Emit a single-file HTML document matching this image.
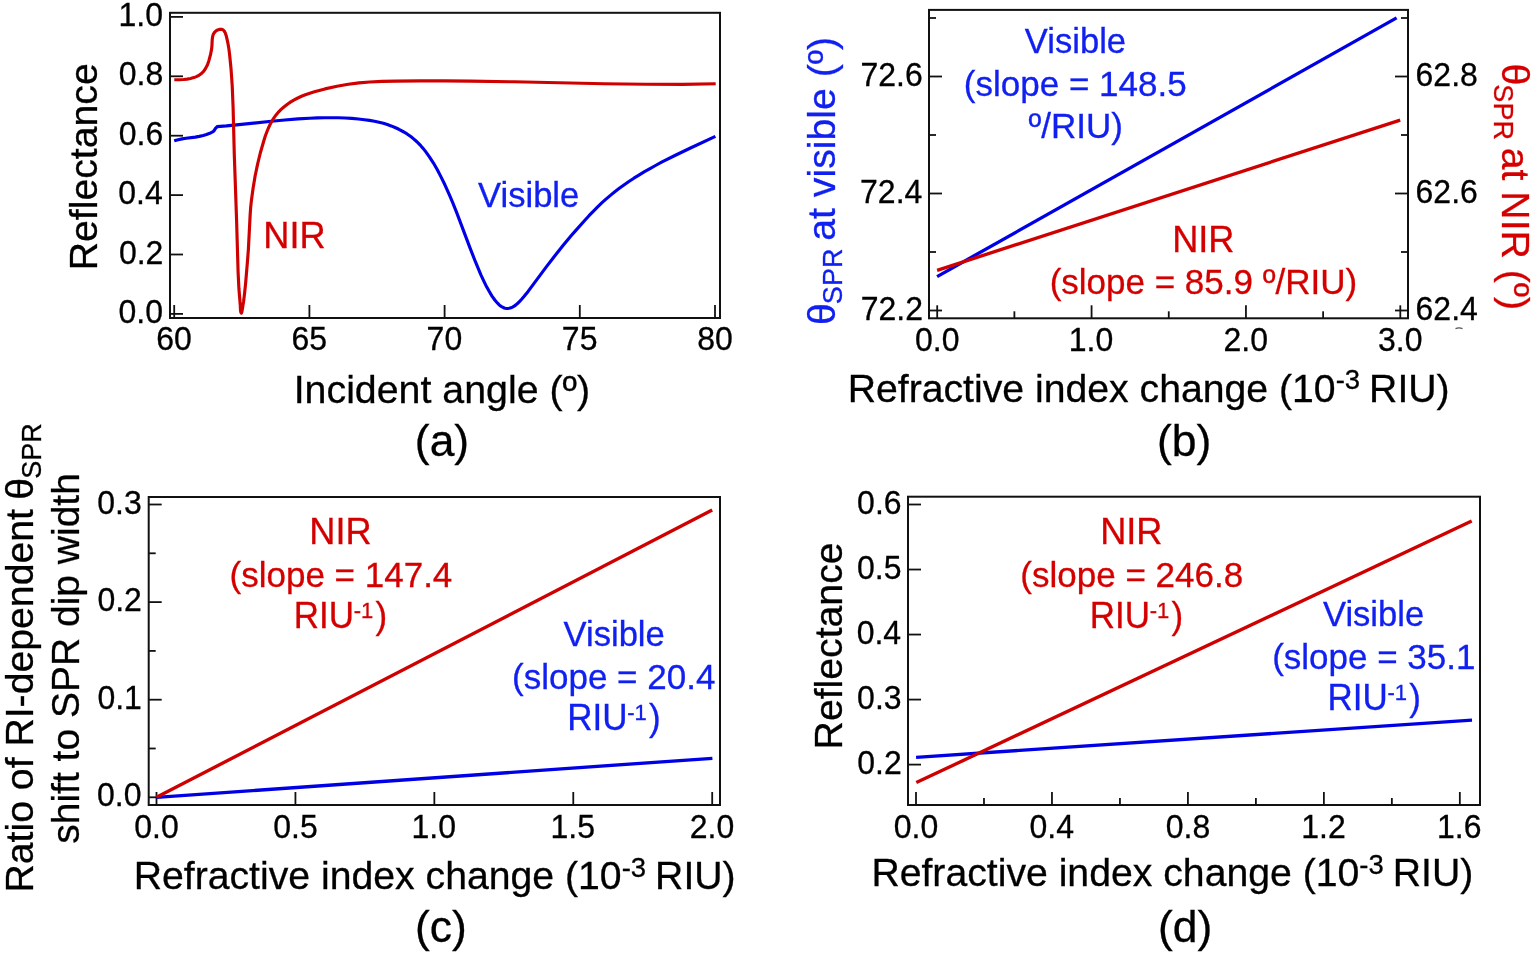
<!DOCTYPE html>
<html><head><meta charset="utf-8"><title>SPR sensing figure</title>
<style>html,body{margin:0;padding:0;background:#fff;overflow:hidden;}svg{display:block;}</style>
</head><body>
<svg width="1534" height="955" viewBox="0 0 1534 955" style='font-family: "Liberation Sans", Arial, Helvetica, sans-serif'>
<rect width="1534" height="955" fill="#fff"/>
<rect x="170" y="12.8" width="550" height="305.2" fill="none" stroke="#111" stroke-width="2"/>
<line x1="170" y1="313.9" x2="183" y2="313.9" stroke="#111" stroke-width="1.8" stroke-linecap="butt"/>
<line x1="170" y1="254.5" x2="183" y2="254.5" stroke="#111" stroke-width="1.8" stroke-linecap="butt"/>
<line x1="170" y1="195.1" x2="183" y2="195.1" stroke="#111" stroke-width="1.8" stroke-linecap="butt"/>
<line x1="170" y1="135.7" x2="183" y2="135.7" stroke="#111" stroke-width="1.8" stroke-linecap="butt"/>
<line x1="170" y1="76.3" x2="183" y2="76.3" stroke="#111" stroke-width="1.8" stroke-linecap="butt"/>
<line x1="170" y1="16.9" x2="183" y2="16.9" stroke="#111" stroke-width="1.8" stroke-linecap="butt"/>
<line x1="174.2" y1="318" x2="174.2" y2="305" stroke="#111" stroke-width="1.8" stroke-linecap="butt"/>
<line x1="309.4" y1="318" x2="309.4" y2="305" stroke="#111" stroke-width="1.8" stroke-linecap="butt"/>
<line x1="444.6" y1="318" x2="444.6" y2="305" stroke="#111" stroke-width="1.8" stroke-linecap="butt"/>
<line x1="579.8" y1="318" x2="579.8" y2="305" stroke="#111" stroke-width="1.8" stroke-linecap="butt"/>
<line x1="715" y1="318" x2="715" y2="305" stroke="#111" stroke-width="1.8" stroke-linecap="butt"/>
<text transform="translate(118.57,322.9) scale(1,1.04)" font-size="32" fill="#000" stroke="#000" stroke-width="0.3">0.0</text>
<text transform="translate(118.93,263.5) scale(1,1.04)" font-size="32" fill="#000" stroke="#000" stroke-width="0.3">0.2</text>
<text transform="translate(118.25,204.1) scale(1,1.04)" font-size="32" fill="#000" stroke="#000" stroke-width="0.3">0.4</text>
<text transform="translate(118.72,144.7) scale(1,1.04)" font-size="32" fill="#000" stroke="#000" stroke-width="0.3">0.6</text>
<text transform="translate(118.71,85.3) scale(1,1.04)" font-size="32" fill="#000" stroke="#000" stroke-width="0.3">0.8</text>
<text transform="translate(118.57,25.9) scale(1,1.04)" font-size="32" fill="#000" stroke="#000" stroke-width="0.3">1.0</text>
<text transform="translate(156.22,350.3) scale(1,1.04)" font-size="32" fill="#000" stroke="#000" stroke-width="0.3">60</text>
<text transform="translate(291.46,350.3) scale(1,1.04)" font-size="32" fill="#000" stroke="#000" stroke-width="0.3">65</text>
<text transform="translate(426.61,350.3) scale(1,1.04)" font-size="32" fill="#000" stroke="#000" stroke-width="0.3">70</text>
<text transform="translate(561.85,350.3) scale(1,1.04)" font-size="32" fill="#000" stroke="#000" stroke-width="0.3">75</text>
<text transform="translate(697.13,350.3) scale(1,1.04)" font-size="32" fill="#000" stroke="#000" stroke-width="0.3">80</text>
<path d="M174.2,140.8 L178.2,139.7 182.1,138.9 186.1,138.3 195.3,137.1 199.3,136.4 203.2,135.5 206.5,134.5 209.8,133.3 213.1,131.7 213.9,130.9 215.2,128.8 215.8,128.0 216.4,127.5 217.1,126.6 226.5,125.9 236.5,124.9 271.4,121.3 284.7,120.0 298.0,118.9 309.7,118.2 317.4,117.9 324.6,117.7 331.8,117.7 338.5,117.8 345.1,118.0 351.8,118.4 358.4,119.0 364.5,119.7 369.5,120.4 374.5,121.2 379.0,122.2 383.4,123.3 387.3,124.5 391.1,125.9 395.0,127.5 398.9,129.3 403.9,132.0 406.7,133.7 408.9,135.2 411.1,136.8 413.3,138.6 415.5,140.5 417.8,142.6 420.0,144.8 421.6,146.7 423.3,148.6 425.5,151.4 429.4,156.8 433.3,162.8 437.2,169.5 441.0,176.9 444.9,184.8 449.3,194.7 452.7,202.7 456.6,212.4 469.9,247.6 475.4,261.7 478.2,268.4 480.9,274.8 483.7,280.8 485.9,285.4 489.3,291.5 492.0,296.1 494.8,300.0 496.5,302.0 497.6,303.2 499.2,304.8 500.3,305.8 501.4,306.6 502.6,307.2 504.2,308.0 505.3,308.3 506.4,308.5 507.5,308.5 509.2,308.3 510.9,307.8 512.5,307.1 514.2,306.1 515.9,304.9 517.5,303.5 519.2,301.9 521.4,299.5 524.2,296.3 528.1,291.4 546.3,266.9 554.7,256.0 563.0,245.6 571.3,235.6 575.2,231.1 584.0,221.2 589.0,215.7 593.5,211.1 597.9,206.6 602.3,202.4 605.7,199.4 610.1,195.6 614.5,192.0 619.0,188.6 623.9,185.0 628.9,181.5 633.9,178.2 638.9,175.1 644.5,171.7 650.0,168.6 655.5,165.5 661.6,162.2 674.9,155.5 690.5,148.0 715.4,136.4" fill="none" stroke="#0000e6" stroke-width="3.15" stroke-linejoin="round" stroke-linecap="butt"/>
<path d="M174.3,79.8 L179.5,79.7 183.6,79.5 187.1,79.1 190.5,78.5 193.9,77.6 196.4,76.6 199.3,75.1 201.5,73.5 203.8,71.2 205.6,68.4 207.5,64.7 208.9,60.7 210.5,54.7 211.5,49.6 211.9,46.3 212.2,40.0 212.5,37.2 213.2,34.6 214.1,32.9 215.5,31.4 216.6,30.5 217.8,29.9 219.7,29.3 221.6,29.3 222.7,29.7 223.2,30.0 224.1,30.9 225.2,32.8 226.2,35.7 227.2,39.9 228.0,43.7 228.8,48.2 229.5,53.6 231.0,68.5 232.2,85.5 233.1,107.2 234.3,154.8 236.6,220.6 238.1,272.3 238.9,288.5 240.3,305.5 240.5,310.4 240.9,312.4 241.2,312.9 241.4,313.1 241.8,312.1 242.3,309.4 243.6,301.2 244.6,293.1 245.7,282.3 247.3,263.4 248.4,249.1 250.2,213.9 250.7,207.1 251.5,199.7 253.2,187.5 255.2,175.5 257.6,164.2 260.3,153.0 263.9,140.5 265.3,136.0 267.0,131.5 268.6,127.7 270.3,124.0 272.3,120.5 274.1,117.6 276.1,114.9 278.7,111.8 281.1,109.4 284.2,106.7 287.4,104.2 290.8,101.9 294.2,99.9 297.8,98.0 301.5,96.3 305.3,94.8 309.8,93.2 314.4,91.8 325.0,88.9 337.0,86.3 348.3,84.3 359.0,82.9 369.8,82.0 382.0,81.4 396.3,81.1 420.1,80.9 444.6,80.9 470.4,81.1 513.9,81.8 604.3,83.8 645.7,84.3 682.4,84.3 715.7,83.7" fill="none" stroke="#cf0000" stroke-width="3.15" stroke-linejoin="round" stroke-linecap="butt"/>
<text transform="translate(263.33,248) scale(1,1.04)" font-size="36.2" fill="#d40000" stroke="#d40000" stroke-width="0.3">NIR</text>
<text transform="translate(478.05,206.8)" font-size="34.6" fill="#1020f0" stroke="#1020f0" stroke-width="0.3">Visible</text>
<text transform="translate(96.9,270.22) rotate(-90)" font-size="39.2" fill="#000" stroke="#000" stroke-width="0.3">Reflectance</text>
<text transform="translate(293.67,402.8)" font-size="39.35" fill="#000" stroke="#000" stroke-width="0.3">Incident angle (º)</text>
<text transform="translate(414.81,455.6) scale(1,0.98)" font-size="44.5" fill="#000" stroke="#000" stroke-width="0.3">(a)</text>
<rect x="929" y="9.9" width="479" height="308.4" fill="none" stroke="#111" stroke-width="2"/>
<line x1="929" y1="310.5" x2="942" y2="310.5" stroke="#111" stroke-width="1.8" stroke-linecap="butt"/>
<line x1="929" y1="193.5" x2="942" y2="193.5" stroke="#111" stroke-width="1.8" stroke-linecap="butt"/>
<line x1="929" y1="76.5" x2="942" y2="76.5" stroke="#111" stroke-width="1.8" stroke-linecap="butt"/>
<line x1="929" y1="252" x2="936" y2="252" stroke="#111" stroke-width="1.8" stroke-linecap="butt"/>
<line x1="929" y1="135" x2="936" y2="135" stroke="#111" stroke-width="1.8" stroke-linecap="butt"/>
<line x1="929" y1="18" x2="936" y2="18" stroke="#111" stroke-width="1.8" stroke-linecap="butt"/>
<line x1="1395" y1="310.5" x2="1408" y2="310.5" stroke="#111" stroke-width="1.8" stroke-linecap="butt"/>
<line x1="1395" y1="193.5" x2="1408" y2="193.5" stroke="#111" stroke-width="1.8" stroke-linecap="butt"/>
<line x1="1395" y1="76.5" x2="1408" y2="76.5" stroke="#111" stroke-width="1.8" stroke-linecap="butt"/>
<line x1="1401" y1="252" x2="1408" y2="252" stroke="#111" stroke-width="1.8" stroke-linecap="butt"/>
<line x1="1401" y1="135" x2="1408" y2="135" stroke="#111" stroke-width="1.8" stroke-linecap="butt"/>
<line x1="1401" y1="18" x2="1408" y2="18" stroke="#111" stroke-width="1.8" stroke-linecap="butt"/>
<line x1="937.2" y1="318.3" x2="937.2" y2="305.3" stroke="#111" stroke-width="1.8" stroke-linecap="butt"/>
<line x1="1091.57" y1="318.3" x2="1091.57" y2="305.3" stroke="#111" stroke-width="1.8" stroke-linecap="butt"/>
<line x1="1245.94" y1="318.3" x2="1245.94" y2="305.3" stroke="#111" stroke-width="1.8" stroke-linecap="butt"/>
<line x1="1400.31" y1="318.3" x2="1400.31" y2="305.3" stroke="#111" stroke-width="1.8" stroke-linecap="butt"/>
<line x1="1014.38" y1="318.3" x2="1014.38" y2="311.3" stroke="#111" stroke-width="1.8" stroke-linecap="butt"/>
<line x1="1168.76" y1="318.3" x2="1168.76" y2="311.3" stroke="#111" stroke-width="1.8" stroke-linecap="butt"/>
<line x1="1323.12" y1="318.3" x2="1323.12" y2="311.3" stroke="#111" stroke-width="1.8" stroke-linecap="butt"/>
<text transform="translate(860.73,319.5) scale(1,1.04)" font-size="32" fill="#000" stroke="#000" stroke-width="0.3">72.2</text>
<text transform="translate(860.06,202.5) scale(1,1.04)" font-size="32" fill="#000" stroke="#000" stroke-width="0.3">72.4</text>
<text transform="translate(860.52,85.5) scale(1,1.04)" font-size="32" fill="#000" stroke="#000" stroke-width="0.3">72.6</text>
<text transform="translate(1415.58,319.5) scale(1,1.04)" font-size="32" fill="#000" stroke="#000" stroke-width="0.3">62.4</text>
<text transform="translate(1415.58,202.5) scale(1,1.04)" font-size="32" fill="#000" stroke="#000" stroke-width="0.3">62.6</text>
<text transform="translate(1415.58,85.5) scale(1,1.04)" font-size="32" fill="#000" stroke="#000" stroke-width="0.3">62.8</text>
<text transform="translate(914.96,350.6) scale(1,1.04)" font-size="32" fill="#000" stroke="#000" stroke-width="0.3">0.0</text>
<text transform="translate(1068.73,350.6) scale(1,1.04)" font-size="32" fill="#000" stroke="#000" stroke-width="0.3">1.0</text>
<text transform="translate(1223.52,350.6) scale(1,1.04)" font-size="32" fill="#000" stroke="#000" stroke-width="0.3">2.0</text>
<text transform="translate(1378.08,350.6) scale(1,1.04)" font-size="32" fill="#000" stroke="#000" stroke-width="0.3">3.0</text>
<path d="M937.1,276.6 L1396.6,17.9" fill="none" stroke="#0000e6" stroke-width="3.35" stroke-linejoin="round" stroke-linecap="butt"/>
<path d="M937.1,270.3 L1400.2,120.1" fill="none" stroke="#cf0000" stroke-width="3.35" stroke-linejoin="round" stroke-linecap="butt"/>
<text transform="translate(1024.85,53.4)" font-size="34.6" fill="#1020f0" stroke="#1020f0" stroke-width="0.3">Visible</text>
<text transform="translate(963.83,96.3)" font-size="35" fill="#1020f0" stroke="#1020f0" stroke-width="0.3">(slope = 148.5</text>
<text transform="translate(1028.54,137.7)" font-size="35" fill="#1020f0" stroke="#1020f0" stroke-width="0.3">º/RIU)</text>
<text transform="translate(1172.13,251.6) scale(1,1.04)" font-size="36.2" fill="#d40000" stroke="#d40000" stroke-width="0.3">NIR</text>
<text transform="translate(1049.63,293.5)" font-size="35" fill="#d40000" stroke="#d40000" stroke-width="0.3">(slope = 85.9 º/RIU)</text>
<text transform="translate(847.68,401.7)" font-size="39.2" fill="#000" stroke="#000" stroke-width="0.3">Refractive index change (10<tspan font-size="27.44" dy="-12.7">-3</tspan><tspan dx="-1.8" dy="12.7"> RIU)</tspan></text>
<text transform="translate(1157.01,455.8) scale(1,0.98)" font-size="44.5" fill="#000" stroke="#000" stroke-width="0.3">(b)</text>
<text transform="translate(834.5,324.93) rotate(-90)" font-size="39.2" fill="#1020f0" stroke="#1020f0" stroke-width="0.3">θ<tspan font-size="27" dx="-1" dy="7.8">SPR</tspan><tspan dx="-3" dy="-7.8"> at visible (º)</tspan></text>
<text transform="translate(1502,63.57) rotate(90)" font-size="39.2" fill="#d40000" stroke="#d40000" stroke-width="0.3">θ<tspan font-size="27" dx="-1" dy="7.8">SPR</tspan><tspan dx="-3" dy="-7.8"> at NIR (º)</tspan></text>
<path d="M1455.5,328.6 Q1459,327.2 1462.5,328.6" fill="none" stroke="#555" stroke-width="1.2"/>
<rect x="148.7" y="497" width="571.3" height="308" fill="none" stroke="#111" stroke-width="2"/>
<line x1="148.7" y1="797.3" x2="161.7" y2="797.3" stroke="#111" stroke-width="1.8" stroke-linecap="butt"/>
<line x1="148.7" y1="699.7" x2="161.7" y2="699.7" stroke="#111" stroke-width="1.8" stroke-linecap="butt"/>
<line x1="148.7" y1="602.1" x2="161.7" y2="602.1" stroke="#111" stroke-width="1.8" stroke-linecap="butt"/>
<line x1="148.7" y1="504.5" x2="161.7" y2="504.5" stroke="#111" stroke-width="1.8" stroke-linecap="butt"/>
<line x1="148.7" y1="748.5" x2="155.7" y2="748.5" stroke="#111" stroke-width="1.8" stroke-linecap="butt"/>
<line x1="148.7" y1="650.9" x2="155.7" y2="650.9" stroke="#111" stroke-width="1.8" stroke-linecap="butt"/>
<line x1="148.7" y1="553.3" x2="155.7" y2="553.3" stroke="#111" stroke-width="1.8" stroke-linecap="butt"/>
<line x1="156.5" y1="805" x2="156.5" y2="792" stroke="#111" stroke-width="1.8" stroke-linecap="butt"/>
<line x1="295.43" y1="805" x2="295.43" y2="792" stroke="#111" stroke-width="1.8" stroke-linecap="butt"/>
<line x1="434.35" y1="805" x2="434.35" y2="792" stroke="#111" stroke-width="1.8" stroke-linecap="butt"/>
<line x1="573.28" y1="805" x2="573.28" y2="792" stroke="#111" stroke-width="1.8" stroke-linecap="butt"/>
<line x1="712.2" y1="805" x2="712.2" y2="792" stroke="#111" stroke-width="1.8" stroke-linecap="butt"/>
<text transform="translate(97.07,806.3) scale(1,1.04)" font-size="32" fill="#000" stroke="#000" stroke-width="0.3">0.0</text>
<text transform="translate(97.38,708.7) scale(1,1.04)" font-size="32" fill="#000" stroke="#000" stroke-width="0.3">0.1</text>
<text transform="translate(97.43,611.1) scale(1,1.04)" font-size="32" fill="#000" stroke="#000" stroke-width="0.3">0.2</text>
<text transform="translate(97.22,513.5) scale(1,1.04)" font-size="32" fill="#000" stroke="#000" stroke-width="0.3">0.3</text>
<text transform="translate(134.26,837.5) scale(1,1.04)" font-size="32" fill="#000" stroke="#000" stroke-width="0.3">0.0</text>
<text transform="translate(273.23,837.5) scale(1,1.04)" font-size="32" fill="#000" stroke="#000" stroke-width="0.3">0.5</text>
<text transform="translate(411.51,837.5) scale(1,1.04)" font-size="32" fill="#000" stroke="#000" stroke-width="0.3">1.0</text>
<text transform="translate(550.49,837.5) scale(1,1.04)" font-size="32" fill="#000" stroke="#000" stroke-width="0.3">1.5</text>
<text transform="translate(689.78,837.5) scale(1,1.04)" font-size="32" fill="#000" stroke="#000" stroke-width="0.3">2.0</text>
<path d="M156.5,797.3 L712.4,758.3" fill="none" stroke="#0000e6" stroke-width="3.35" stroke-linejoin="round" stroke-linecap="butt"/>
<path d="M156.5,797.3 L712.2,510" fill="none" stroke="#cf0000" stroke-width="3.35" stroke-linejoin="round" stroke-linecap="butt"/>
<text transform="translate(309.33,543.6) scale(1,1.04)" font-size="36.2" fill="#d40000" stroke="#d40000" stroke-width="0.3">NIR</text>
<text transform="translate(229.53,587)" font-size="35" fill="#d40000" stroke="#d40000" stroke-width="0.3">(slope = 147.4</text>
<text transform="translate(293.83,628.1) scale(1,1.04)" font-size="35" fill="#d40000" stroke="#d40000" stroke-width="0.3">RIU<tspan font-size="22" dx="-0.3" dy="-9.57">-1</tspan><tspan dx="2.2" dy="9.57">)</tspan></text>
<text transform="translate(563.55,646)" font-size="34.6" fill="#1020f0" stroke="#1020f0" stroke-width="0.3">Visible</text>
<text transform="translate(512.03,689.2)" font-size="35" fill="#1020f0" stroke="#1020f0" stroke-width="0.3">(slope = 20.4</text>
<text transform="translate(567.33,730) scale(1,1.04)" font-size="35" fill="#1020f0" stroke="#1020f0" stroke-width="0.3">RIU<tspan font-size="22" dx="-0.3" dy="-9.57">-1</tspan><tspan dx="2.2" dy="9.57">)</tspan></text>
<text transform="translate(133.68,889.4)" font-size="39.2" fill="#000" stroke="#000" stroke-width="0.3">Refractive index change (10<tspan font-size="27.44" dy="-12.7">-3</tspan><tspan dx="-1.8" dy="12.7"> RIU)</tspan></text>
<text transform="translate(414.91,942) scale(1,0.98)" font-size="44.5" fill="#000" stroke="#000" stroke-width="0.3">(c)</text>
<text transform="translate(32.6,892.52) rotate(-90)" font-size="39.2" fill="#000" stroke="#000" stroke-width="0.3">Ratio of RI-dependent <tspan dx="-1.5">θ</tspan><tspan font-size="27" dx="-0.8" dy="8.3">SPR</tspan></text>
<text transform="translate(78.6,843.79) rotate(-90)" font-size="39" fill="#000" stroke="#000" stroke-width="0.3">shift to SPR dip width</text>
<rect x="908" y="496.7" width="572" height="308.3" fill="none" stroke="#111" stroke-width="2"/>
<line x1="908" y1="764.6" x2="921" y2="764.6" stroke="#111" stroke-width="1.8" stroke-linecap="butt"/>
<line x1="908" y1="699.58" x2="921" y2="699.58" stroke="#111" stroke-width="1.8" stroke-linecap="butt"/>
<line x1="908" y1="634.55" x2="921" y2="634.55" stroke="#111" stroke-width="1.8" stroke-linecap="butt"/>
<line x1="908" y1="569.53" x2="921" y2="569.53" stroke="#111" stroke-width="1.8" stroke-linecap="butt"/>
<line x1="908" y1="504.5" x2="921" y2="504.5" stroke="#111" stroke-width="1.8" stroke-linecap="butt"/>
<line x1="916" y1="805" x2="916" y2="792" stroke="#111" stroke-width="1.8" stroke-linecap="butt"/>
<line x1="1051.96" y1="805" x2="1051.96" y2="792" stroke="#111" stroke-width="1.8" stroke-linecap="butt"/>
<line x1="1187.92" y1="805" x2="1187.92" y2="792" stroke="#111" stroke-width="1.8" stroke-linecap="butt"/>
<line x1="1323.88" y1="805" x2="1323.88" y2="792" stroke="#111" stroke-width="1.8" stroke-linecap="butt"/>
<line x1="1459.84" y1="805" x2="1459.84" y2="792" stroke="#111" stroke-width="1.8" stroke-linecap="butt"/>
<line x1="983.98" y1="805" x2="983.98" y2="798" stroke="#111" stroke-width="1.8" stroke-linecap="butt"/>
<line x1="1119.94" y1="805" x2="1119.94" y2="798" stroke="#111" stroke-width="1.8" stroke-linecap="butt"/>
<line x1="1255.9" y1="805" x2="1255.9" y2="798" stroke="#111" stroke-width="1.8" stroke-linecap="butt"/>
<line x1="1391.86" y1="805" x2="1391.86" y2="798" stroke="#111" stroke-width="1.8" stroke-linecap="butt"/>
<text transform="translate(857.33,773.6) scale(1,1.04)" font-size="32" fill="#000" stroke="#000" stroke-width="0.3">0.2</text>
<text transform="translate(857.12,708.58) scale(1,1.04)" font-size="32" fill="#000" stroke="#000" stroke-width="0.3">0.3</text>
<text transform="translate(856.65,643.55) scale(1,1.04)" font-size="32" fill="#000" stroke="#000" stroke-width="0.3">0.4</text>
<text transform="translate(857.06,578.53) scale(1,1.04)" font-size="32" fill="#000" stroke="#000" stroke-width="0.3">0.5</text>
<text transform="translate(857.12,513.5) scale(1,1.04)" font-size="32" fill="#000" stroke="#000" stroke-width="0.3">0.6</text>
<text transform="translate(893.76,838) scale(1,1.04)" font-size="32" fill="#000" stroke="#000" stroke-width="0.3">0.0</text>
<text transform="translate(1029.56,838) scale(1,1.04)" font-size="32" fill="#000" stroke="#000" stroke-width="0.3">0.4</text>
<text transform="translate(1165.75,838) scale(1,1.04)" font-size="32" fill="#000" stroke="#000" stroke-width="0.3">0.8</text>
<text transform="translate(1301.22,838) scale(1,1.04)" font-size="32" fill="#000" stroke="#000" stroke-width="0.3">1.2</text>
<text transform="translate(1437.08,838) scale(1,1.04)" font-size="32" fill="#000" stroke="#000" stroke-width="0.3">1.6</text>
<path d="M916.1,757.3 L1472,720.1" fill="none" stroke="#0000e6" stroke-width="3.35" stroke-linejoin="round" stroke-linecap="butt"/>
<path d="M916.3,782.6 L1471.7,521.1" fill="none" stroke="#cf0000" stroke-width="3.35" stroke-linejoin="round" stroke-linecap="butt"/>
<text transform="translate(1100.13,544.1) scale(1,1.04)" font-size="36.2" fill="#d40000" stroke="#d40000" stroke-width="0.3">NIR</text>
<text transform="translate(1020.33,587.1)" font-size="35" fill="#d40000" stroke="#d40000" stroke-width="0.3">(slope = 246.8</text>
<text transform="translate(1089.73,628.3) scale(1,1.04)" font-size="35" fill="#d40000" stroke="#d40000" stroke-width="0.3">RIU<tspan font-size="22" dx="-0.3" dy="-9.57">-1</tspan><tspan dx="2.2" dy="9.57">)</tspan></text>
<text transform="translate(1322.95,626.1)" font-size="34.6" fill="#1020f0" stroke="#1020f0" stroke-width="0.3">Visible</text>
<text transform="translate(1272.13,668.9)" font-size="35" fill="#1020f0" stroke="#1020f0" stroke-width="0.3">(slope = 35.1</text>
<text transform="translate(1327.43,710.2) scale(1,1.04)" font-size="35" fill="#1020f0" stroke="#1020f0" stroke-width="0.3">RIU<tspan font-size="22" dx="-0.3" dy="-9.57">-1</tspan><tspan dx="2.2" dy="9.57">)</tspan></text>
<text transform="translate(841.6,749.42) rotate(-90)" font-size="39.2" fill="#000" stroke="#000" stroke-width="0.3">Reflectance</text>
<text transform="translate(871.38,886.3)" font-size="39.2" fill="#000" stroke="#000" stroke-width="0.3">Refractive index change (10<tspan font-size="27.44" dy="-12.7">-3</tspan><tspan dx="-1.8" dy="12.7"> RIU)</tspan></text>
<text transform="translate(1157.91,942.1) scale(1,0.98)" font-size="44.5" fill="#000" stroke="#000" stroke-width="0.3">(d)</text>
</svg>
</body></html>
